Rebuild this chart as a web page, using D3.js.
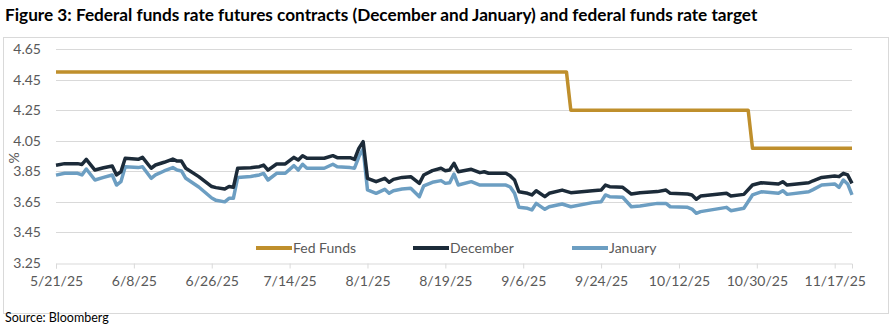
<!DOCTYPE html>
<html>
<head>
<meta charset="utf-8">
<script src="https://cdn.jsdelivr.net/npm/d3@7"></script>
<style>
  body { margin: 0; background: #fff; }
  svg { display: block; font-family: Lato, "Open Sans", sans-serif; }
</style>
</head>
<body>
<svg id="chart" width="894" height="328"></svg>
<script>
// values
const dates = ["5/21/25","5/23/25","5/26/25","5/27/25","5/28/25","5/30/25","6/1/25","6/3/25","6/4/25","6/5/25",
  "6/6/25","6/9/25","6/10/25","6/12/25","6/13/25","6/15/25","6/17/25","6/18/25","6/19/25","6/20/25",
  "6/23/25","6/26/25","6/27/25","6/29/25","6/30/25","7/1/25","7/2/25","7/5/25","7/7/25","7/8/25",
  "7/9/25","7/11/25","7/13/25","7/15/25","7/16/25","7/17/25","7/18/25","7/22/25","7/24/25","7/25/25",
  "7/28/25","7/29/25","7/30/25","7/31/25","8/1/25","8/3/25","8/5/25","8/6/25","8/7/25","8/9/25",
  "8/11/25","8/13/25","8/14/25","8/16/25","8/18/25","8/19/25","8/20/25","8/21/25","8/22/25","8/25/25",
  "8/27/25","8/28/25","8/29/25","9/2/25","9/3/25","9/4/25","9/5/25","9/7/25","9/8/25","9/9/25",
  "9/11/25","9/12/25","9/15/25","9/17/25","9/22/25","9/24/25","9/25/25","9/26/25","9/29/25","10/1/25",
  "10/3/25","10/7/25","10/9/25","10/10/25","10/14/25","10/15/25","10/16/25","10/17/25","10/23/25","10/24/25",
  "10/27/25","10/29/25","10/31/25","11/4/25","11/5/25","11/6/25","11/11/25","11/12/25","11/14/25","11/17/25",
  "11/18/25","11/19/25","11/20/25","11/21/25"];

const december = [3.89,3.90,3.90,3.895,3.928,3.858,3.873,3.885,3.826,3.847,
  3.935,3.928,3.941,3.87,3.891,3.909,3.93,3.917,3.917,3.87,
  3.815,3.75,3.743,3.734,3.75,3.745,3.87,3.873,3.88,3.891,
  3.858,3.898,3.898,3.941,3.924,3.952,3.935,3.935,3.952,3.939,
  3.939,3.928,4.00,4.044,3.804,3.782,3.804,3.778,3.797,3.81,
  3.815,3.771,3.826,3.854,3.87,3.854,3.858,3.902,3.847,3.863,
  3.841,3.847,3.837,3.837,3.82,3.793,3.716,3.706,3.695,3.723,
  3.684,3.706,3.727,3.71,3.723,3.727,3.76,3.749,3.745,3.701,
  3.71,3.717,3.727,3.706,3.701,3.695,3.667,3.688,3.706,3.688,
  3.699,3.76,3.775,3.767,3.782,3.76,3.775,3.788,3.81,3.819,
  3.815,3.837,3.826,3.771];

const january = [3.825,3.837,3.837,3.826,3.865,3.793,3.81,3.826,3.76,3.782,
  3.88,3.874,3.88,3.804,3.826,3.852,3.874,3.858,3.852,3.804,
  3.747,3.675,3.66,3.65,3.673,3.673,3.81,3.816,3.826,3.836,
  3.793,3.837,3.837,3.887,3.858,3.896,3.87,3.87,3.896,3.88,
  3.874,3.87,3.945,3.996,3.728,3.706,3.732,3.706,3.723,3.734,
  3.739,3.684,3.754,3.778,3.789,3.771,3.775,3.832,3.76,3.782,
  3.76,3.76,3.76,3.76,3.747,3.706,3.614,3.608,3.597,3.64,
  3.601,3.618,3.636,3.618,3.645,3.65,3.695,3.684,3.68,3.618,
  3.623,3.64,3.64,3.618,3.614,3.603,3.575,3.586,3.614,3.592,
  3.608,3.695,3.716,3.706,3.723,3.699,3.716,3.73,3.76,3.767,
  3.745,3.793,3.767,3.695];

const fedDates = ["5/21/25","9/16/25","9/17/25","10/28/25","10/29/25","11/21/25"];
const fedFunds = [4.50, 4.50, 4.25, 4.25, 4.00, 4.00];

const yTicks = [3.25, 3.45, 3.65, 3.85, 4.05, 4.25, 4.45, 4.65];
const xTickLabels = ["5/21/25","6/8/25","6/26/25","7/14/25","8/1/25","8/19/25","9/6/25","9/24/25","10/12/25","10/30/25","11/17/25"];

const seriesNames = ["Fed Funds", "December", "January"];
const colors = ["#BF8F2C", "#1C2B39", "#6C9EC2"];

const parse = d3.timeParse("%m/%d/%y");
const svg = d3.select("#chart");
const textColor = "#595959";

// frame
svg.append("rect")
  .attr("x", 3.5).attr("y", 37.5).attr("width", 885).attr("height", 276)
  .attr("fill", "none").attr("stroke", "#D9D9D9");

svg.append("text")
  .attr("x", 5).attr("y", 21)
  .attr("font-size", 17.2).attr("font-weight", "bold").attr("fill", "#000")
  .text("Figure 3: Federal funds rate futures contracts (December and January) and federal funds rate target");

svg.append("text")
  .attr("x", 5).attr("y", 322)
  .attr("font-size", 12.5).attr("fill", "#000")
  .text("Source: Bloomberg");

const x = d3.scaleTime()
  .domain([parse("5/21/25"), parse("11/21/25")])
  .range([56, 852]);
const y = d3.scaleLinear().domain([3.25, 4.65]).range([263, 49]);

// gridlines
svg.append("g")
  .selectAll("line")
  .data(yTicks.slice(1))
  .join("line")
  .attr("x1", 56).attr("x2", 852)
  .attr("y1", d => Math.round(y(d)) + 0.5).attr("y2", d => Math.round(y(d)) + 0.5)
  .attr("stroke", "#D9D9D9");

const yAxis = svg.append("g")
  .attr("transform", "translate(56,0)")
  .call(d3.axisLeft(y).tickValues(yTicks).tickFormat(d3.format(".2f")).tickSize(0).tickPadding(15));
yAxis.select(".domain").remove();
yAxis.selectAll("text").attr("font-size", 14).attr("fill", textColor).attr("font-family", "Lato");

const xAxis = svg.append("g")
  .attr("transform", `translate(0,${Math.round(y(3.25)) + 0.5})`)
  .call(d3.axisBottom(x).tickValues(xTickLabels.map(parse)).tickFormat(d3.timeFormat("%-m/%-d/%y")).tickSizeOuter(0).tickSize(5).tickPadding(8));
xAxis.select(".domain").attr("stroke", "#D9D9D9");
xAxis.selectAll(".tick line").attr("stroke", "#D9D9D9");
xAxis.selectAll("text").attr("font-size", 14).attr("fill", textColor).attr("font-family", "Lato");

svg.append("text")
  .attr("transform", "translate(19,158) rotate(-90)")
  .attr("text-anchor", "middle")
  .attr("font-size", 14).attr("fill", textColor)
  .text("%");

const line = d3.line().x(d => x(d.date)).y(d => y(d.value));

const series = [
  fedDates.map((d, i) => ({ date: parse(d), value: fedFunds[i] })),
  dates.map((d, i) => ({ date: parse(d), value: december[i] })),
  dates.map((d, i) => ({ date: parse(d), value: january[i] }))
];

// january under december
[2, 1, 0].forEach(i => {
  svg.append("path")
    .datum(series[i])
    .attr("d", line)
    .attr("fill", "none")
    .attr("stroke", colors[i])
    .attr("stroke-width", 3.5)
    .attr("stroke-linejoin", "round");
});

// legend
const legendX = [256, 413, 572];
const legend = svg.append("g").selectAll("g")
  .data(seriesNames)
  .join("g")
  .attr("transform", (d, i) => `translate(${legendX[i]},248)`);
legend.append("line")
  .attr("x1", 0).attr("x2", 36)
  .attr("stroke", (d, i) => colors[i]).attr("stroke-width", 4);
legend.append("text")
  .attr("x", 37).attr("y", 5)
  .attr("font-size", 14).attr("fill", textColor)
  .text(d => d);
</script>
</body>
</html>
